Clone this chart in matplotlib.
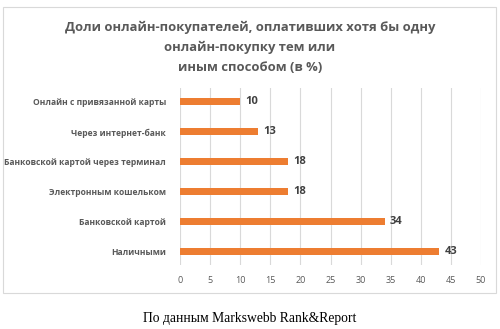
import matplotlib.pyplot as plt
from matplotlib.patches import Rectangle

categories = [
    "Наличными",
    "Банковской картой",
    "Электронным кошельком",
    "Банковской картой через терминал",
    "Через интернет-банк",
    "Онлайн с привязанной карты",
]
shares = [43, 34, 18, 18, 13, 10]
xticks = [0, 5, 10, 15, 20, 25, 30, 35, 40, 45, 50]

title = ("Доли онлайн-покупателей, оплативших хотя бы одну\n"
         "онлайн-покупку тем или\nиным способом (в %)")
source = "По данным Markswebb Rank&Report"

orange = "#ED7D31"
grey = "#595959"

fig = plt.figure(figsize=(5, 3.29), dpi=100)
fig.patch.set_facecolor("white")

# chart frame
fig.patches.append(Rectangle((0.006, 0.11), 0.986, 0.868, transform=fig.transFigure,
                             fill=False, edgecolor="#D9D9D9", linewidth=0.8))

ax = fig.add_axes([0.36, 0.195, 0.602, 0.538])
pos = list(range(len(categories)))
ax.barh(pos, shares, height=0.23, color=orange, zorder=2)
for p, v in zip(pos, shares):
    ax.text(v + 0.9, p, str(v), va="center", ha="left", fontsize=8,
            fontweight="bold", color="#404040", family="Open Sans")

ax.set_xlim(0, 50)
ax.set_ylim(-0.43, 5.47)
ax.set_xticks(xticks)
ax.set_yticks(pos)
ax.set_yticklabels(categories, fontsize=6.1, color=grey, family="Open Sans",
                   fontweight="bold")
ax.tick_params(axis="x", labelsize=6.5, labelcolor=grey, length=0, pad=8)
ax.tick_params(axis="y", length=0, pad=10)
for lbl in ax.get_xticklabels():
    lbl.set_family("Open Sans")
ax.grid(axis="x", color="#D9D9D9", linewidth=0.8, zorder=0)
for s in ax.spines.values():
    s.set_visible(False)

fig.text(0.5, 0.937, title, ha="center", va="top", fontsize=9.4,
         fontweight="bold", color=grey, family="Open Sans", linespacing=1.7)
fig.text(0.5, 0.022, source, ha="center", va="baseline", fontsize=9.8,
         color="black", family="Liberation Serif")

fig.savefig("out.png", dpi=100)
